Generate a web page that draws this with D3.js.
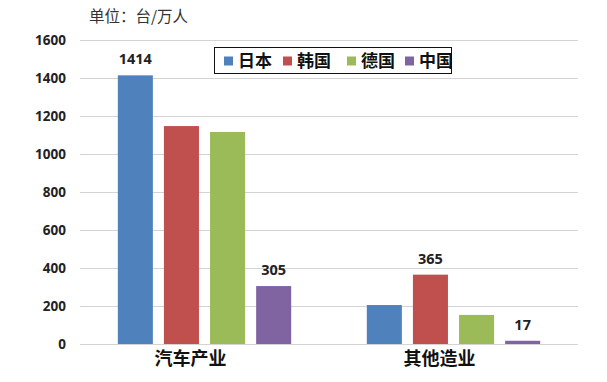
<!DOCTYPE html>
<html>
<head>
<meta charset="utf-8">
<script src="https://cdn.jsdelivr.net/npm/d3@7"></script>
<style>
  body { margin: 0; background: #fff; }
  text { font-family: "Noto Sans CJK SC", "Noto Sans", sans-serif; }
</style>
</head>
<body>
<div id="viz"></div>
<script>
// categories, series and values
var categories = ["汽车产业", "其他造业"];
var countries = ["日本", "韩国", "德国", "中国"];
var japan = [1414, 205];
var korea = [1147, 365];
var germany = [1116, 153];
var china = [305, 17];
var yTicks = [0, 200, 400, 600, 800, 1000, 1200, 1400, 1600];
// only these values are labelled in the picture
var shownLabels = [[0, "日本"], [0, "中国"], [1, "韩国"], [1, "中国"]];

var colors = {"日本": "#4F81BD", "韩国": "#C0504D", "德国": "#9BBB59", "中国": "#8064A2"};

var width = 607, height = 382;
var plotLeft = 80, plotRight = 578, plotTop = 40, plotBottom = 344;

var series = {"日本": japan, "韩国": korea, "德国": germany, "中国": china};
var data = [];
categories.forEach(function (c, i) {
    countries.forEach(function (k) {
        data.push({cat: c, ci: i, country: k, value: series[k][i]});
    });
});

var svg = d3.select("#viz").append("svg").attr("width", width).attr("height", height);

var y = d3.scaleLinear().domain([0, 1600]).range([plotBottom, plotTop]);
var x0 = d3.scaleBand().domain(categories).range([plotLeft, plotRight]);
var x1 = d3.scaleBand().domain(countries).range([0, x0.bandwidth()])
    .paddingInner(0.24).paddingOuter(0.82);

// unit title
svg.append("text")
    .attr("x", 89).attr("y", 22)
    .attr("font-size", 15.5)
    .attr("fill", "#333")
    .text("单位：台/万人");

// gridlines
svg.append("g").selectAll("line")
    .data(yTicks)
    .enter().append("line")
    .attr("x1", plotLeft).attr("x2", plotRight)
    .attr("y1", function (d) { return y(d) + 0.5; })
    .attr("y2", function (d) { return y(d) + 0.5; })
    .attr("stroke", "#d4d4d4")
    .attr("stroke-width", 1);

// y axis labels
var yAxis = d3.axisLeft(y).tickValues(yTicks).tickFormat(d3.format("d")).tickSize(0).tickPadding(0);
var ya = svg.append("g").attr("transform", "translate(66,0)").call(yAxis);
ya.select(".domain").remove();
ya.selectAll("text")
    .attr("font-size", 13.5)
    .attr("font-weight", "bold")
    .attr("fill", "#222")
    .style("font-family", "'Noto Sans', sans-serif");

// bars
svg.append("g").selectAll("rect")
    .data(data)
    .enter().append("rect")
    .attr("x", function (d) { return x0(d.cat) + x1(d.country); })
    .attr("y", function (d) { return y(d.value); })
    .attr("width", x1.bandwidth())
    .attr("height", function (d) { return plotBottom - y(d.value); })
    .attr("fill", function (d) { return colors[d.country]; });

// value labels
var labelled = data.filter(function (d) {
    return shownLabels.some(function (s) { return s[0] === d.ci && s[1] === d.country; });
});
svg.append("g").selectAll("text")
    .data(labelled)
    .enter().append("text")
    .attr("x", function (d) { return x0(d.cat) + x1(d.country) + x1.bandwidth() / 2; })
    .attr("y", function (d) { return y(d.value) - 11; })
    .attr("text-anchor", "middle")
    .attr("font-size", 14.5)
    .attr("font-weight", "bold")
    .attr("fill", "#222")
    .style("font-family", "'Noto Sans', sans-serif")
    .text(function (d) { return d.value; });

// category labels
svg.append("g").selectAll("text")
    .data(categories)
    .enter().append("text")
    .attr("x", function (d) { return x0(d) + x0.bandwidth() / 2 - 14; })
    .attr("y", 365)
    .attr("text-anchor", "middle")
    .attr("font-size", 18)
    .attr("font-weight", "bold")
    .attr("fill", "#111")
    .text(function (d) { return d; });

// legend
var legend = svg.append("g");
legend.append("rect")
    .attr("x", 214.5).attr("y", 47.5)
    .attr("width", 237).attr("height", 26)
    .attr("fill", "#fff")
    .attr("stroke", "#111")
    .attr("stroke-width", 1);
var legendX = [224, 283, 347, 405];
var items = legend.selectAll("g.item")
    .data(countries)
    .enter().append("g")
    .attr("class", "item")
    .attr("transform", function (d, i) { return "translate(" + legendX[i] + ",61)"; });
items.append("rect")
    .attr("x", 0).attr("y", -4.5)
    .attr("width", 9).attr("height", 9)
    .attr("fill", function (d) { return colors[d]; });
items.append("text")
    .attr("x", 14).attr("y", 6)
    .attr("font-size", 17)
    .attr("font-weight", "bold")
    .attr("fill", "#111")
    .text(function (d) { return d; });
</script>
</body>
</html>
